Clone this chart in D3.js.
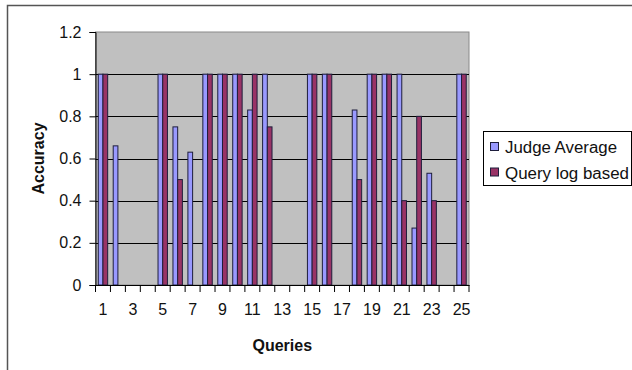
<!DOCTYPE html>
<html>
<head>
<meta charset="utf-8">
<script src="https://cdn.jsdelivr.net/npm/d3@7"></script>
<style>
  html, body { margin: 0; padding: 0; background: #fff; }
  svg { display: block; font-family: "Liberation Sans", Arial, sans-serif; }
</style>
</head>
<body>
<svg id="chart" width="632" height="370"></svg>
<script>
// Accuracy per query for the two evaluation methods
const queries = d3.range(1, 26).map(String);
const seriesNames = ["Judge Average", "Query log based"];
const judgeAverage = [1, 0.66, 0, 0, 1, 0.75, 0.63, 1, 1, 1, 0.83, 1, 0, 0, 1, 1, 0, 0.83, 1, 1, 1, 0.27, 0.53, 0, 1];
const queryLogBased = [1, 0, 0, 0, 1, 0.5, 0, 1, 1, 1, 1, 0.75, 0, 0, 1, 1, 0, 0.5, 1, 1, 0.4, 0.8, 0.4, 0, 1];
const yTicks = [0, 0.2, 0.4, 0.6, 0.8, 1, 1.2];
const xTickLabels = ["1", "3", "5", "7", "9", "11", "13", "15", "17", "19", "21", "23", "25"];
const colors = ["#9999ff", "#993366"];

const svg = d3.select("#chart");

// outer chart frame
svg.append("rect")
  .attr("x", 7.5).attr("y", 5.5)
  .attr("width", 660).attr("height", 400)
  .attr("fill", "#fff").attr("stroke", "#555").attr("stroke-width", 1.5);

const plot = { left: 95.5, right: 469, top: 32, bottom: 285 };

const x0 = d3.scaleBand()
  .domain(queries)
  .range([plot.left, plot.right])
  .paddingInner(0.37)
  .paddingOuter(0.185);

const x1 = d3.scaleBand()
  .domain(seriesNames)
  .range([0, x0.bandwidth()]);

const y = d3.scaleLinear()
  .domain([0, 1.2])
  .range([plot.bottom, plot.top]);

// plot background
svg.append("rect")
  .attr("x", plot.left).attr("y", plot.top)
  .attr("width", plot.right - plot.left).attr("height", plot.bottom - plot.top)
  .attr("fill", "#c0c0c0").attr("stroke", "#8a8a8a").attr("stroke-width", 1);

// horizontal gridlines
svg.append("g")
  .selectAll("line")
  .data(yTicks.filter(v => v > 0 && v < 1.2))
  .join("line")
  .attr("x1", plot.left).attr("x2", plot.right)
  .attr("y1", d => Math.round(y(d)) + 0.5).attr("y2", d => Math.round(y(d)) + 0.5)
  .attr("stroke", "#000").attr("stroke-width", 1);

// bars
const rows = queries.map((q, i) => ({ q, values: [judgeAverage[i], queryLogBased[i]] }));
const groups = svg.append("g")
  .selectAll("g")
  .data(rows)
  .join("g")
  .attr("transform", d => `translate(${x0(d.q)},0)`);

groups.selectAll("rect")
  .data(d => d.values.map((v, k) => ({ key: seriesNames[k], v, k })).filter(e => e.v > 0))
  .join("rect")
  .attr("x", d => x1(d.key))
  .attr("width", x1.bandwidth())
  .attr("y", d => y(d.v))
  .attr("height", d => y(0) - y(d.v))
  .attr("fill", d => colors[d.k])
  .attr("stroke", "#1e1e3c")
  .attr("stroke-width", 1);

// y axis
const yAxis = svg.append("g")
  .attr("transform", `translate(${plot.left},0)`)
  .call(d3.axisLeft(y).tickValues(yTicks).tickSize(6).tickPadding(8).tickFormat(d3.format("~g")));
yAxis.select(".domain").attr("stroke", "#000");
yAxis.selectAll("line").attr("stroke", "#000");
yAxis.selectAll("text").attr("font-size", 16).attr("fill", "#111");

// x axis labels at odd queries
const xAxis = svg.append("g")
  .attr("transform", `translate(0,${plot.bottom})`)
  .call(d3.axisBottom(x0).tickValues(xTickLabels).tickSize(0).tickPadding(19));
xAxis.select(".domain").attr("stroke", "#000");
xAxis.selectAll("text").attr("font-size", 16).attr("fill", "#111");

// x tick marks between categories
svg.append("g")
  .selectAll("line")
  .data(d3.range(queries.length + 1))
  .join("line")
  .attr("x1", i => plot.left + i * x0.step())
  .attr("x2", i => plot.left + i * x0.step())
  .attr("y1", plot.bottom).attr("y2", plot.bottom + 7)
  .attr("stroke", "#000");

// axis titles
svg.append("text")
  .attr("x", (plot.left + plot.right) / 2).attr("y", 351)
  .attr("text-anchor", "middle")
  .attr("font-size", 16).attr("font-weight", "bold").attr("fill", "#111")
  .text("Queries");

svg.append("text")
  .attr("transform", `translate(44,${(plot.top + plot.bottom) / 2}) rotate(-90)`)
  .attr("text-anchor", "middle")
  .attr("font-size", 16).attr("font-weight", "bold").attr("fill", "#111")
  .text("Accuracy");

// legend
const legend = svg.append("g").attr("transform", "translate(483,131)");
legend.append("rect")
  .attr("x", 0.5).attr("y", 0.5).attr("width", 148).attr("height", 54)
  .attr("fill", "#fff").attr("stroke", "#000");
seriesNames.forEach((name, k) => {
  legend.append("rect")
    .attr("x", 7.5).attr("y", 11.5 + k * 25.5)
    .attr("width", 8).attr("height", 8)
    .attr("fill", colors[k]).attr("stroke", "#1e1e3c");
  legend.append("text")
    .attr("x", 22).attr("y", 22 + k * 25.5)
    .attr("font-size", 16).attr("fill", "#111")
    .attr("textLength", k === 0 ? 112 : 124)
    .attr("lengthAdjust", "spacingAndGlyphs")
    .text(name);
});
</script>
</body>
</html>
